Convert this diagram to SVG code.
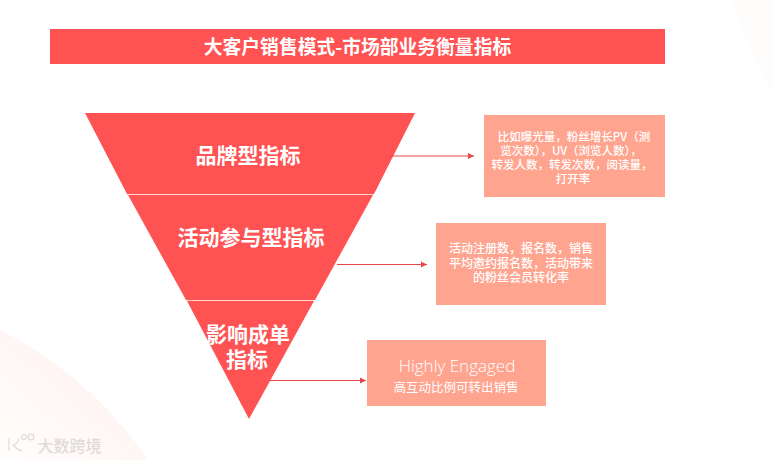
<svg xmlns="http://www.w3.org/2000/svg" width="773" height="460" viewBox="0 0 773 460">
<style>
text{font-family:"Noto Sans CJK SC","Noto Sans",sans-serif;fill:#fff;text-anchor:middle}
.seg{fill:#ff5252}
.box{fill:#ffa48f}
.h{font-size:21px;font-weight:700}
.s{font-size:11.500px;font-weight:500}
.c{stroke:#e8474c;stroke-width:1;fill:none;marker-end:url(#a)}
.sep{stroke:#ffd9d4;stroke-width:1}
.w{fill:none;stroke:#dedbd9;stroke-width:1.200}
</style>
<defs>
<marker id="a" markerUnits="userSpaceOnUse" markerWidth="7" markerHeight="7" refX="6" refY="3.500" orient="auto"><path d="M0 .5L6 3.500L0 6.500z" fill="#e8474c"/></marker>
<linearGradient id="g" x1="1" y1="0" x2="0" y2="1"><stop offset="0.300" stop-color="#fff4f2"/><stop offset="1" stop-color="#fffdfc"/></linearGradient>
</defs>
<rect width="773" height="460" fill="#fff"/>
<path d="M0 330C60 360 110 405 148 460H0z" fill="url(#g)"/>
<path d="M733 0C742 35 758 70 773 95V0z" fill="#fffdfc"/>
<g id="title"><rect x="50" y="29" width="615" height="35" class="seg"/><text x="357.500" y="54" style="font-size:18.800px;font-weight:700">大客户销售模式-市场部业务衡量指标</text></g>
<g id="funnel-1"><path d="M85 113H415L374 194H127z" class="seg"/><text x="248" y="163" class="h">品牌型指标</text></g>
<g id="funnel-2"><path d="M128 195H373L315 300H186z" class="seg"/><text x="251" y="245" class="h">活动参与型指标</text></g>
<g id="funnel-3"><path d="M187 301H314L249 419z" class="seg"/><text class="h"><tspan x="248" y="342">影响成单</tspan><tspan x="247" y="367">指标</tspan></text></g>
<g id="separators"><path d="M127 194.500H374M186 300.500H314" class="sep"/></g>
<g id="connectors">
<path d="M389 156H474" class="c"/>
<path d="M337 264.500H427" class="c"/>
<path d="M270 380.500H366" class="c"/>
</g>
<g id="box-1"><rect x="484" y="115" width="181" height="82" class="box"/>
<text class="s"><tspan x="574" y="141">比如曝光量，粉丝增长PV（测</tspan><tspan x="571" y="155">览次数），UV（浏览人数），</tspan><tspan x="572" y="169">转发人数，转发次数，阅读量，</tspan><tspan x="573" y="183">打开率</tspan></text></g>
<g id="box-2"><rect x="436" y="223" width="170" height="82" class="box"/>
<text class="s" style="font-size:12px"><tspan x="521" y="253">活动注册数，报名数，销售</tspan><tspan x="521" y="268">平均邀约报名数，活动带来</tspan><tspan x="521" y="282">的粉丝会员转化率</tspan></text></g>
<g id="box-3"><rect x="367" y="340" width="179" height="66" class="box"/>
<text x="457" y="372" style="font-size:17px;font-family:'Open Sans','Noto Sans',sans-serif;font-weight:300">Highly Engaged</text>
<text x="456" y="392" style="font-size:12.500px">高互动比例可转出销售</text></g>
<g id="watermark"><text x="69.500" y="452" style="font-size:16px;fill:#dedbd9;font-weight:500">大数跨境</text>
<path d="M9 438V451M19 438C18 444 14 445 13 445C15 447 18 450 22 451" class="w"/><circle cx="24" cy="437" r="2.500" class="w"/><circle cx="31" cy="437" r="2.800" class="w"/></g>
</svg>
